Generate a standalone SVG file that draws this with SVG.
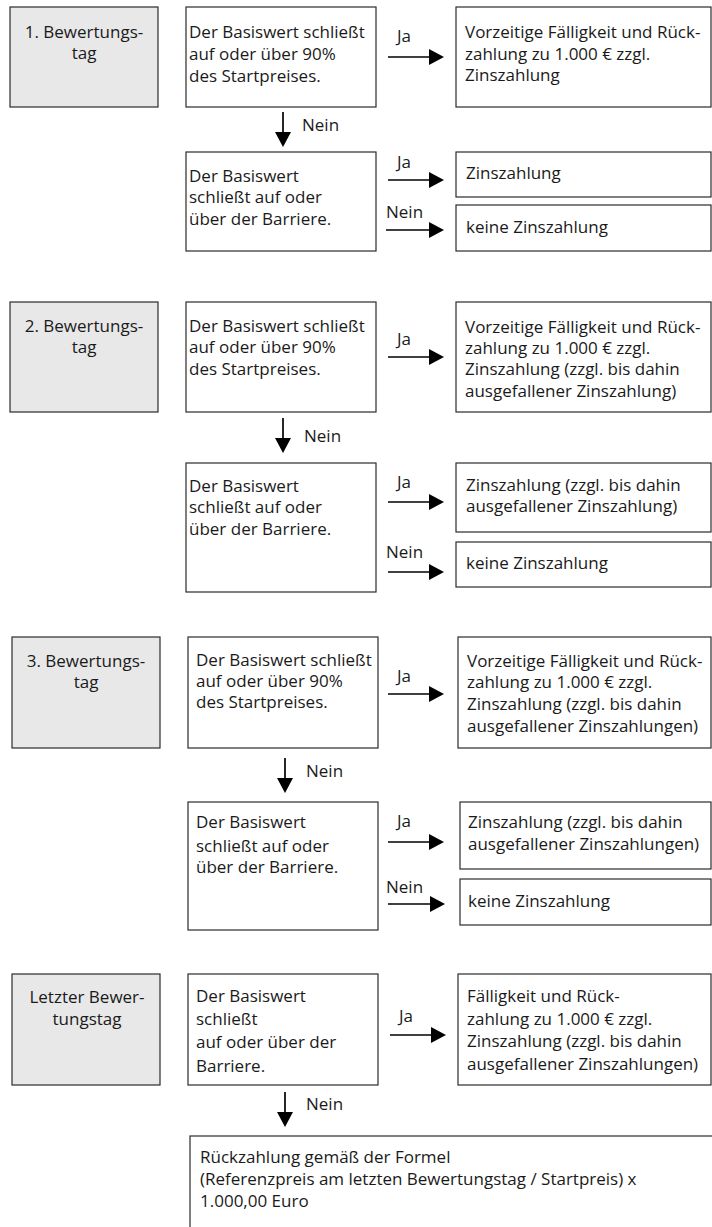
<svg xmlns="http://www.w3.org/2000/svg" width="712" height="1227" viewBox="0 0 712 1227">
<style>
.box{fill:#ffffff;stroke:#2b2b2b;stroke-width:1.2}
.day{fill:#e8e8e8;stroke:#2b2b2b;stroke-width:1.2}
text{font-family:"Open Sans","Noto Sans","DejaVu Sans",sans-serif;font-size:17px;fill:#1a1a1a}
.c{text-anchor:middle}
.arr{stroke:#000;stroke-width:1.7;fill:none;marker-end:url(#ah)}
</style>
<defs>
<marker id="ah" markerUnits="userSpaceOnUse" viewBox="0 0 15 16" refX="0" refY="8" markerWidth="15" markerHeight="16" orient="auto">
<path d="M0,0 L15,8 L0,16 Z" fill="#000"/>
</marker>
</defs>
<rect x="0" y="0" width="712" height="1227" fill="#ffffff"/>

<!-- Section 1 -->
<g id="day1"><rect class="day" x="10" y="7" width="148" height="100"/><text class="c" x="84" y="38">1. Bewertungs-</text><text class="c" x="84" y="59">tag</text></g>
<g id="d1a"><rect class="box" x="186" y="7" width="190" height="100"/><text x="189" y="38">Der Basiswert schließt</text><text x="189" y="60">auf oder über 90%</text><text x="189" y="82">des Startpreises.</text></g>
<g id="r1a"><rect class="box" x="456" y="7" width="255" height="100"/><text x="465" y="38">Vorzeitige Fälligkeit und Rück-</text><text x="465" y="60">zahlung zu 1.000 € zzgl.</text><text x="465" y="81">Zinszahlung</text></g>
<g id="d1b"><rect class="box" x="186" y="152" width="190" height="99"/><text x="189" y="182">Der Basiswert</text><text x="189" y="203">schließt auf oder</text><text x="189" y="225">über der Barriere.</text></g>
<g id="r1b"><rect class="box" x="456" y="152" width="255" height="45"/><text x="466" y="179">Zinszahlung</text></g>
<g id="r1c"><rect class="box" x="456" y="205" width="255" height="46"/><text x="466" y="233">keine Zinszahlung</text></g>

<!-- Section 2 -->
<g id="day2"><rect class="day" x="10" y="302" width="148" height="110"/><text class="c" x="84" y="332">2. Bewertungs-</text><text class="c" x="84" y="353">tag</text></g>
<g id="d2a"><rect class="box" x="186" y="302" width="190" height="110"/><text x="189" y="332">Der Basiswert schließt</text><text x="189" y="353">auf oder über 90%</text><text x="189" y="375">des Startpreises.</text></g>
<g id="r2a"><rect class="box" x="456" y="302" width="255" height="110"/><text x="465" y="333">Vorzeitige Fälligkeit und Rück-</text><text x="465" y="354">zahlung zu 1.000 € zzgl.</text><text x="465" y="375">Zinszahlung (zzgl. bis dahin</text><text x="465" y="397">ausgefallener Zinszahlung)</text></g>
<g id="d2b"><rect class="box" x="186" y="463" width="190" height="129"/><text x="189" y="492">Der Basiswert</text><text x="189" y="513">schließt auf oder</text><text x="189" y="535">über der Barriere.</text></g>
<g id="r2b"><rect class="box" x="456" y="463" width="255" height="69"/><text x="466" y="491">Zinszahlung (zzgl. bis dahin</text><text x="466" y="512">ausgefallener Zinszahlung)</text></g>
<g id="r2c"><rect class="box" x="456" y="542" width="255" height="45"/><text x="466" y="569">keine Zinszahlung</text></g>

<!-- Section 3 -->
<g id="day3"><rect class="day" x="12" y="637" width="148" height="111"/><text class="c" x="86" y="667">3. Bewertungs-</text><text class="c" x="86" y="688">tag</text></g>
<g id="d3a"><rect class="box" x="188" y="637" width="190" height="111"/><text x="196" y="666">Der Basiswert schließt</text><text x="196" y="687">auf oder über 90%</text><text x="196" y="708">des Startpreises.</text></g>
<g id="r3a"><rect class="box" x="458" y="637" width="253" height="111"/><text x="467" y="667">Vorzeitige Fälligkeit und Rück-</text><text x="467" y="688">zahlung zu 1.000 € zzgl.</text><text x="467" y="710">Zinszahlung (zzgl. bis dahin</text><text x="467" y="732">ausgefallener Zinszahlungen)</text></g>
<g id="d3b"><rect class="box" x="188" y="802" width="190" height="128"/><text x="196" y="828">Der Basiswert</text><text x="196" y="852">schließt auf oder</text><text x="196" y="873">über der Barriere.</text></g>
<g id="r3b"><rect class="box" x="460" y="802" width="251" height="67"/><text x="468" y="828">Zinszahlung (zzgl. bis dahin</text><text x="468" y="850">ausgefallener Zinszahlungen)</text></g>
<g id="r3c"><rect class="box" x="460" y="879" width="251" height="46"/><text x="468" y="907">keine Zinszahlung</text></g>

<!-- Section 4 -->
<g id="day4"><rect class="day" x="12" y="974" width="148" height="111"/><text class="c" x="87" y="1003">Letzter Bewer-</text><text class="c" x="87" y="1025">tungstag</text></g>
<g id="d4"><rect class="box" x="188" y="974" width="190" height="111"/><text x="196" y="1002">Der Basiswert</text><text x="196" y="1025">schließt</text><text x="196" y="1048">auf oder über der</text><text x="196" y="1072">Barriere.</text></g>
<g id="r4"><rect class="box" x="458" y="974" width="253" height="111"/><text x="467" y="1002">Fälligkeit und Rück-</text><text x="467" y="1025">zahlung zu 1.000 € zzgl.</text><text x="467" y="1047">Zinszahlung (zzgl. bis dahin</text><text x="467" y="1070">ausgefallener Zinszahlungen)</text></g>
<g id="final"><rect class="box" x="190" y="1136" width="540" height="110"/><text x="200" y="1163">Rückzahlung gemäß der Formel</text><text x="200" y="1185">(Referenzpreis am letzten Bewertungstag / Startpreis) x</text><text x="200" y="1207">1.000,00 Euro</text></g>

<g id="connectors">
<line class="arr" x1="388" y1="57" x2="429" y2="57"/>
<line class="arr" x1="283" y1="112" x2="283" y2="132"/>
<line class="arr" x1="388" y1="180" x2="429" y2="180"/>
<line class="arr" x1="386" y1="230" x2="429" y2="230"/>
<line class="arr" x1="388" y1="357" x2="429" y2="357"/>
<line class="arr" x1="283" y1="418" x2="283" y2="438"/>
<line class="arr" x1="388" y1="502" x2="429" y2="502"/>
<line class="arr" x1="388" y1="572" x2="429" y2="572"/>
<line class="arr" x1="388" y1="694" x2="429" y2="694"/>
<line class="arr" x1="285" y1="758" x2="285" y2="778"/>
<line class="arr" x1="388" y1="842" x2="429" y2="842"/>
<line class="arr" x1="388" y1="904" x2="430" y2="904"/>
<line class="arr" x1="390" y1="1035" x2="431" y2="1035"/>
<line class="arr" x1="285" y1="1092" x2="285" y2="1112"/>
<text x="397" y="42">Ja</text>
<text x="302" y="131">Nein</text>
<text x="397" y="168">Ja</text>
<text x="386" y="218">Nein</text>
<text x="397" y="345">Ja</text>
<text x="304" y="442">Nein</text>
<text x="397" y="488">Ja</text>
<text x="386" y="558">Nein</text>
<text x="397" y="682">Ja</text>
<text x="306" y="777">Nein</text>
<text x="397" y="827">Ja</text>
<text x="386" y="893">Nein</text>
<text x="399" y="1022">Ja</text>
<text x="306" y="1110">Nein</text>
</g>
</svg>
